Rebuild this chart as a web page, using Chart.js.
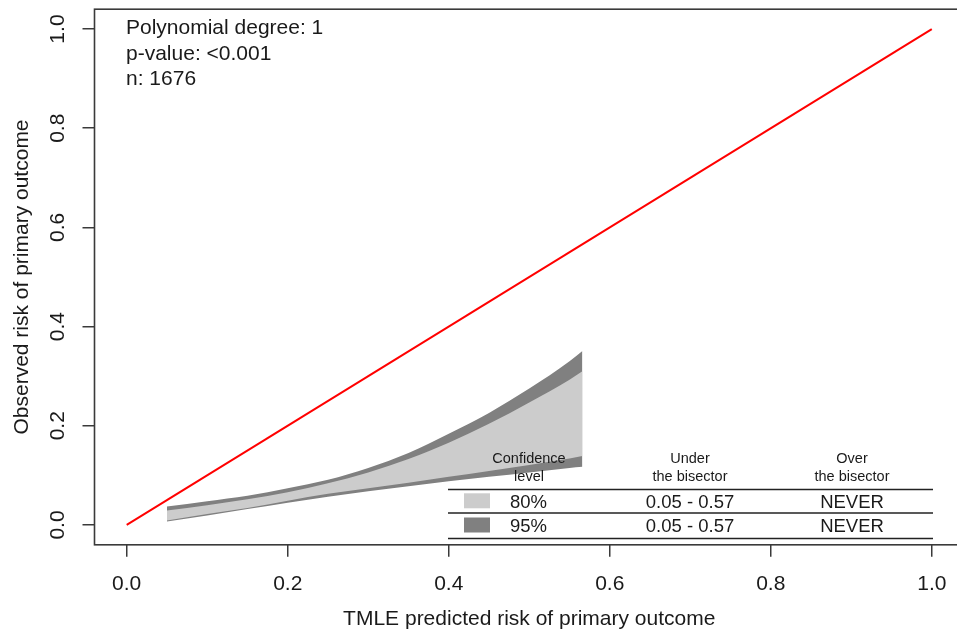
<!DOCTYPE html>
<html>
<head>
<meta charset="utf-8">
<script src="https://cdn.jsdelivr.net/npm/chart.js@4"></script>
<style>
  html, body { margin: 0; padding: 0; overflow: hidden; background: #fff; }
  #wrap { width: 1000px; height: 632px; }
</style>
</head>
<body>
<div id="wrap"><canvas id="myChart" width="1000" height="632"></canvas></div>
<script>
// calibration bands
const riskX   = [0.05, 0.10, 0.15, 0.20, 0.25, 0.30, 0.35, 0.40, 0.45, 0.50, 0.55, 0.566];
const upper95 = [0.037, 0.048, 0.059, 0.074, 0.091, 0.115, 0.145, 0.184, 0.226, 0.275, 0.330, 0.351];
const upper80 = [0.029, 0.040, 0.052, 0.066, 0.084, 0.106, 0.133, 0.166, 0.204, 0.247, 0.293, 0.310];
const lower80 = [0.009, 0.022, 0.034, 0.049, 0.063, 0.074, 0.085, 0.097, 0.109, 0.121, 0.134, 0.139];
const lower95 = [0.007, 0.019, 0.032, 0.045, 0.057, 0.068, 0.078, 0.088, 0.097, 0.106, 0.115, 0.1175];

// bisector
const diagX = [0, 1];
const diagY = [0, 1];

// annotation + table text
const infoLines   = ['Polynomial degree: 1', 'p-value: <0.001', 'n: 1676'];
const confLevels  = ['80%', '95%'];
const underRanges = ['0.05 - 0.57', '0.05 - 0.57'];
const overRanges  = ['NEVER', 'NEVER'];

const txt = '#1a1a1a';
const axisCol = '#3a3a3a';
const light = '#cccccc', dark = '#808080';
Chart.defaults.font.family = '"Liberation Sans", Arial, sans-serif';
Chart.defaults.color = txt;

const pts = (xs, ys) => xs.map((x, i) => ({ x: x, y: ys[i] }));
const band = (d, fill, bg) => ({
  data: d, fill: fill, backgroundColor: bg, borderColor: 'rgba(0,0,0,0)',
  borderWidth: 0, pointRadius: 0, cubicInterpolationMode: 'monotone'
});

const extras = {
  id: 'extras',
  afterDraw(chart) {
    const c = chart.ctx, a = chart.chartArea, ys = chart.scales.y;
    c.save();
    // frame
    c.strokeStyle = axisCol; c.lineWidth = 1.6;
    c.strokeRect(a.left, a.top, a.right - a.left, a.bottom - a.top);

    // y tick labels, rotated like R
    c.fillStyle = txt;
    c.font = '21px "Liberation Sans", Arial';
    c.textAlign = 'center'; c.textBaseline = 'middle';
    ys.ticks.forEach(t => {
      c.save();
      c.translate(58, ys.getPixelForValue(t.value));
      c.rotate(-Math.PI / 2);
      c.fillText(t.value.toFixed(1), 0, 0);
      c.restore();
    });

    // top-left info
    c.textAlign = 'left'; c.textBaseline = 'alphabetic';
    infoLines.forEach((s, i) => c.fillText(s, 126, 34 + i * 25.5));

    // table
    const tl = 448, tr = 933;
    c.strokeStyle = '#222'; c.lineWidth = 1.5;
    [489.5, 513, 538.5].forEach(y => {
      c.beginPath(); c.moveTo(tl, y); c.lineTo(tr, y); c.stroke();
    });
    c.textAlign = 'center';
    c.font = '14.5px "Liberation Sans", Arial';
    c.fillText('Confidence', 529, 463); c.fillText('level', 529, 480.5);
    c.fillText('Under', 690, 463); c.fillText('the bisector', 690, 480.5);
    c.fillText('Over', 852, 463); c.fillText('the bisector', 852, 480.5);
    c.font = '18.5px "Liberation Sans", Arial';
    const sw = [light, dark];
    confLevels.forEach((lv, i) => {
      const base = 508.3 + i * 24;
      c.fillStyle = sw[i];
      c.fillRect(464, 493.3 + i * 24.2, 26, 15);
      c.fillStyle = txt;
      c.fillText(lv, 528.5, base);
      c.fillText(underRanges[i], 690, base);
      c.fillText(overRanges[i], 852, base);
    });
    c.restore();
  }
};

const ctx = document.getElementById('myChart');
new Chart(ctx, {
  type: 'line',
  data: {
    datasets: [
      band(pts(riskX, upper80), '+1', light),
      band(pts(riskX, lower80), false, light),
      band(pts(riskX, upper95), '+1', dark),
      band(pts(riskX, lower95), false, dark),
      {
        data: pts(diagX, diagY), borderColor: '#ff0000', borderWidth: 2,
        pointRadius: 0, fill: false, tension: 0
      }
    ]
  },
  options: {
    responsive: false,
    animation: false,
    layout: { padding: { top: 9.2, right: 36, bottom: 0, left: 0 } },
    plugins: { legend: { display: false }, tooltip: { enabled: false } },
    scales: {
      x: {
        type: 'linear', min: -0.04, max: 1.04,
        afterFit: s => { s.height = 87.2; },
        ticks: {
          stepSize: 0.2, includeBounds: false, padding: 15, autoSkip: false,
          maxRotation: 0, font: { size: 21 }, color: txt,
          callback: v => v.toFixed(1)
        },
        grid: { drawOnChartArea: false, drawTicks: true, tickLength: 12, color: axisCol, lineWidth: 1.5 },
        border: { display: false },
        title: {
          display: true, text: 'TMLE predicted risk of primary outcome',
          font: { size: 21 }, color: txt, padding: { top: 0, bottom: 0.4 }
        }
      },
      y: {
        type: 'linear', min: -0.04, max: 1.04,
        afterFit: s => { s.width = 94.5; },
        ticks: { display: false, stepSize: 0.2, includeBounds: false },
        grid: { drawOnChartArea: false, drawTicks: true, tickLength: 12, color: axisCol, lineWidth: 1.5 },
        border: { display: false },
        title: {
          display: true, text: 'Observed risk of primary outcome',
          font: { size: 21 }, color: txt, padding: { top: 9.4, bottom: 0 }
        }
      }
    }
  },
  plugins: [extras]
});
</script>
</body>
</html>
